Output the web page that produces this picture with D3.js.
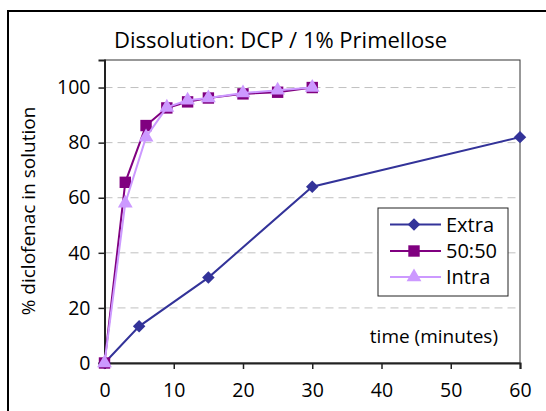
<!DOCTYPE html>
<html><head><meta charset="utf-8">
<script src="https://cdn.jsdelivr.net/npm/d3@7"></script>
<style>body{margin:0;background:#fff}svg{display:block}text{font-family:"Open Sans",sans-serif;fill:#000}</style>
</head><body>
<script>
const title = "Dissolution: DCP / 1% Primellose";
const yLabel = "% diclofenac in solution";
const xLabel = "time (minutes)";
const xTicks = [0,10,20,30,40,50,60];
const yTicks = [0,20,40,60,80,100];
const extraTime = [0,5,15,30,60];
const extraVals = [0,13.3,31,64,82];
const fastTime = [0,3,6,9,12,15,20,25,30];
const fiftyVals = [0,65.6,86.2,92.6,94.8,96.2,97.7,98.3,100];
const intraVals = [0,58,82,92.8,95.4,96.2,98,99,100];
const seriesNames = ["Extra","50:50","Intra"];
const seriesColors = ["#333399","#800080","#CC99FF"];
const seriesShapes = [d3.symbolSquare, d3.symbolSquare, d3.symbolTriangle];
const seriesRot = [45,0,0];
const seriesSizes = [78,130,95];

const W=546,H=411;
const svg=d3.select("body").append("svg").attr("width",W).attr("height",H);
svg.append("rect").attr("x",8).attr("y",11).attr("width",W+20).attr("height",H+20)
  .attr("fill","none").attr("stroke","#000").attr("stroke-width",2);

const L=104.5,R=520,T=60,B=363;
const x=d3.scaleLinear().domain([0,60]).range([L,R]);
const y=d3.scaleLinear().domain([0,110]).range([B,T]);

svg.append("rect").attr("x",L).attr("y",T).attr("width",R-L).attr("height",B-T)
  .attr("fill","#fff").attr("stroke","#333").attr("stroke-width",1);
svg.append("g").selectAll("line").data(yTicks.filter(d=>d>0)).join("line")
  .attr("x1",L).attr("x2",R).attr("y1",d=>y(d)).attr("y2",d=>y(d))
  .attr("stroke","#c0c0c0").attr("stroke-dasharray","8,5");

const ya=svg.append("g").attr("transform",`translate(${L},0)`)
  .call(d3.axisLeft(y).tickValues(yTicks).tickSize(6).tickPadding(8));
const xa=svg.append("g").attr("transform",`translate(0,${B})`)
  .call(d3.axisBottom(x).tickValues(xTicks).tickSize(6).tickPadding(14));
[ya,xa].forEach(g=>{
  g.select(".domain").attr("stroke","#222").attr("stroke-width",2);
  g.selectAll(".tick line").attr("stroke","#222").attr("stroke-width",1.5);
  g.selectAll(".tick text").attr("font-size",19.5).attr("font-family","Open Sans").attr("fill","#000");
});

function marker(sel,i){
  sel.attr("d",d3.symbol().type(seriesShapes[i]).size(seriesSizes[i])).attr("fill",seriesColors[i]);
}
function drawSeries(times, vals, i){
  const pts=times.map((t,k)=>[t,vals[k]]);
  svg.append("path").datum(pts)
    .attr("fill","none").attr("stroke",seriesColors[i]).attr("stroke-width",2)
    .attr("d",d3.line().x(d=>x(d[0])).y(d=>y(d[1])));
  svg.append("g").selectAll("path").data(pts).join("path")
    .attr("transform",d=>`translate(${x(d[0])},${y(d[1])}) rotate(${seriesRot[i]})`)
    .call(marker,i);
}
drawSeries(extraTime,extraVals,0);
drawSeries(fastTime,fiftyVals,1);
drawSeries(fastTime,intraVals,2);

svg.append("text").attr("x",280.5).attr("y",48).attr("text-anchor","middle")
  .attr("font-size",22).text(title);
svg.append("text").attr("transform","translate(35,211) rotate(-90)").attr("text-anchor","middle")
  .attr("font-size",19).text(yLabel);
svg.append("text").attr("x",498).attr("y",343).attr("text-anchor","end")
  .attr("font-size",19).text(xLabel);

const lg=svg.append("g");
lg.append("rect").attr("x",378).attr("y",208).attr("width",130).attr("height",88)
  .attr("fill","#fff").attr("stroke","#222").attr("stroke-width",1);
const legY=[224.5,251,277];
seriesNames.forEach((n,i)=>{
  lg.append("line").attr("x1",390).attr("x2",441).attr("y1",legY[i]).attr("y2",legY[i])
    .attr("stroke",seriesColors[i]).attr("stroke-width",2);
  lg.append("path").attr("transform",`translate(414,${legY[i]}) rotate(${seriesRot[i]})`).call(marker,i);
  lg.append("text").attr("x",446).attr("y",legY[i]+7).attr("font-size",20).text(n);
});
</script>
</body></html>
